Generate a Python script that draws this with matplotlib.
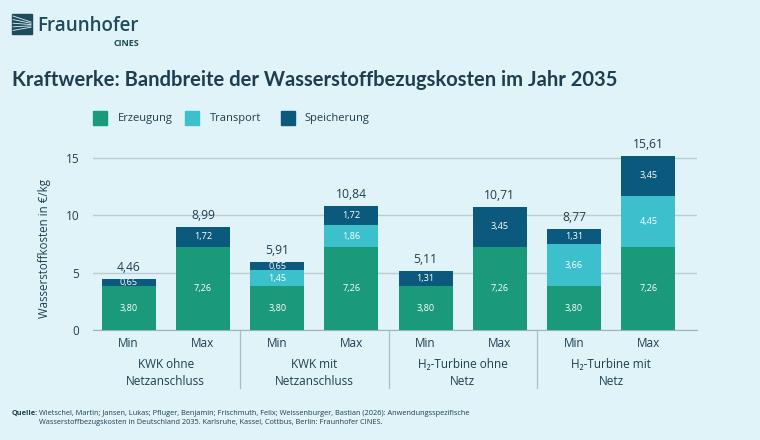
import matplotlib.pyplot as plt
import matplotlib.transforms as mtransforms
from matplotlib.patches import Rectangle
from matplotlib.lines import Line2D

# data
bar_labels = ['Min', 'Max', 'Min', 'Max', 'Min', 'Max', 'Min', 'Max']
groups = ['KWK ohne\nNetzanschluss', 'KWK mit\nNetzanschluss',
          'H₂-Turbine ohne\nNetz', 'H₂-Turbine mit\nNetz']
erzeugung = [3.80, 7.26, 3.80, 7.26, 3.80, 7.26, 3.80, 7.26]
transport = [0, 0, 1.45, 1.86, 0, 0, 3.66, 4.45]
speicherung = [0.65, 1.72, 0.65, 1.72, 1.31, 3.45, 1.31, 3.45]
totals = ['4,46', '8,99', '5,91', '10,84', '5,11', '10,71', '8,77', '15,61']
series_names = ['Erzeugung', 'Transport', 'Speicherung']

bg = '#DFF3F8'
c_erz = '#1A9A7A'
c_tra = '#3CC0CC'
c_spe = '#0B5A7E'
txt = '#1E3E50'
grid_c = '#B9CDD3'

plt.rcParams['font.family'] = ['Open Sans', 'DejaVu Sans']

fig = plt.figure(figsize=(7.6, 4.4), dpi=100, facecolor=bg)
ax = fig.add_axes([0.1224, 0.25, 0.7947, 0.4222], facecolor=bg)

x = list(range(len(bar_labels)))
w = 0.73
bottom2 = [a + b for a, b in zip(erzeugung, transport)]
ax.bar(x, erzeugung, w, color=c_erz, zorder=3)
ax.bar(x, transport, w, bottom=erzeugung, color=c_tra, zorder=3)
ax.bar(x, speicherung, w, bottom=bottom2, color=c_spe, zorder=3)

def fmt(v):
    return ('%.2f' % v).replace('.', ',')

for i in x:
    ax.text(i, erzeugung[i] / 2, fmt(erzeugung[i]), ha='center', va='center',
            color='white', fontsize=6.6, zorder=4)
    if transport[i] > 0:
        ax.text(i, erzeugung[i] + transport[i] / 2, fmt(transport[i]), ha='center',
                va='center', color='white', fontsize=6.6, zorder=4)
    ax.text(i, bottom2[i] + speicherung[i] / 2, fmt(speicherung[i]), ha='center',
            va='center', color='white', fontsize=6.6, zorder=4)
    top = bottom2[i] + speicherung[i]
    ax.text(i, top + 0.45, totals[i], ha='center', va='bottom', color=txt,
            fontsize=8.7, zorder=4)

ax.set_xlim(-0.48, 7.655)
ax.set_ylim(0, 16.2)
ax.set_yticks([0, 5, 10, 15])
ax.set_xticks(x)
ax.set_xticklabels(bar_labels)
ax.tick_params(axis='both', length=0, colors=txt, labelsize=8.5)
ax.tick_params(axis='y', pad=10)
ax.tick_params(axis='x', pad=5)
for s in ['top', 'right', 'left']:
    ax.spines[s].set_visible(False)
ax.spines['bottom'].set_color('#9DB3BA')
ax.yaxis.grid(True, color=grid_c, lw=1, zorder=0)
ax.set_axisbelow(True)

ax.set_ylabel('Wasserstoffkosten in €/kg', color=txt, fontsize=8.3)
ax.yaxis.set_label_coords(-0.07, 0.44)

# group labels and separators
trans = mtransforms.blended_transform_factory(ax.transData, ax.transAxes)
for g, name in enumerate(groups):
    ax.text(2 * g + 0.5, -0.15, name, transform=trans, ha='center', va='top',
            color=txt, fontsize=8.5, linespacing=1.45)
for sx in [1.5, 3.5, 5.5]:
    ax.add_line(Line2D([sx, sx], [0, -0.31], transform=trans, color='#A9BEC4',
                       lw=0.9, clip_on=False))

# legend (swatches + labels)
W, H = 760, 440
for name, col, sq_x, tx_x in zip(series_names, [c_erz, c_tra, c_spe],
                                 [93, 185, 281], [118, 210, 304]):
    fig.patches.append(Rectangle((sq_x / W, 1 - 125 / H), 14 / W, 14 / H,
                                 transform=fig.transFigure, color=col))
    fig.text(tx_x / W, 1 - 118 / H, name, fontsize=8, color=txt, va='center', ha='left')

# title
fig.text(12 / W, 1 - 80 / H, 'Kraftwerke: Bandbreite der Wasserstoffbezugskosten im Jahr 2035',
         fontsize=14.5, fontweight='bold', color=txt, va='center', ha='left',
         family=['Lato', 'DejaVu Sans'])

# logo
logo_c = '#1F4B5C'
fig.patches.append(Rectangle((12 / W, 1 - 34 / H), 20 / W, 20 / H,
                             transform=fig.transFigure, color=logo_c))
for k in range(5):
    y0 = 1 - (16 + k * 3.6) / H
    fig.add_artist(Line2D([13 / W, 31 / W], [y0, 1 - (22 + k * 1.3) / H],
                          transform=fig.transFigure, color=bg, lw=0.6))
fig.text(37 / W, 1 - 26 / H, 'Fraunhofer', fontsize=13.5, fontweight='semibold',
         color=logo_c, va='center', ha='left')
fig.text(139 / W, 1 - 44 / H, 'CINES', fontsize=6.5, fontweight='bold',
         color=logo_c, va='center', ha='right')

# source
fig.text(12 / W, 1 - 413 / H, 'Quelle:', fontsize=5.3, fontweight='bold',
         color=txt, va='center', ha='left')
fig.text(39 / W, 1 - 418 / H,
         'Wietschel, Martin; Jansen, Lukas; Pfluger, Benjamin; Frischmuth, Felix; '
         'Weissenburger, Bastian (2026): Anwendungsspezifische\n'
         'Wasserstoffbezugskosten in Deutschland 2035. Karlsruhe, Kassel, Cottbus, '
         'Berlin: Fraunhofer CINES.',
         fontsize=5.3, color=txt, va='center', ha='left', linespacing=1.5)

fig.savefig('out.png', dpi=100, facecolor=bg)
